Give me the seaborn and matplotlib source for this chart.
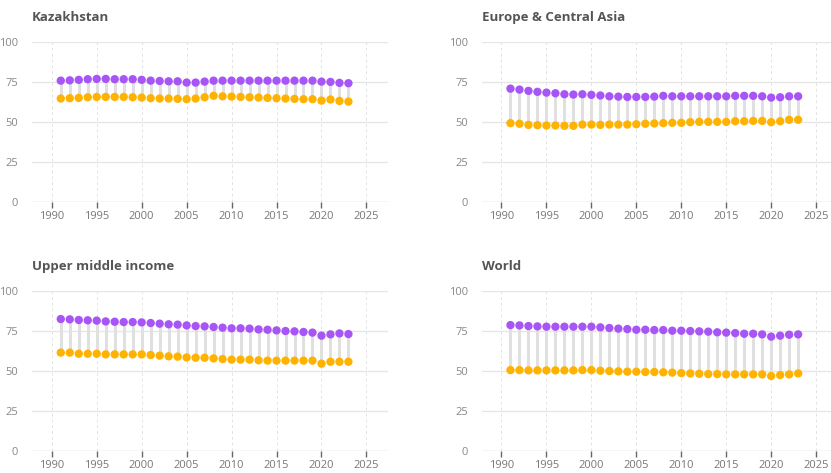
# -------------------------------
# labour_participation_dumbbell.py
# -------------------------------

import pandas as pd
import matplotlib.pyplot as plt
import seaborn as sns

# -------------------------------
# Data
# -------------------------------
YEARS = list(range(1991, 2024))

KAZ_MALE = [75.8, 76.0, 76.3, 76.7, 76.9, 76.9, 76.7, 76.7, 76.7, 76.3, 75.8,
            75.6, 75.4, 75.4, 74.6, 74.6, 75.2, 75.8, 75.8, 75.8, 75.8, 75.8,
            75.8, 75.8, 75.8, 75.8, 75.8, 75.8, 75.8, 75.2, 75.0, 74.4, 74.2]
KAZ_FEMALE = [64.6, 64.8, 65.0, 65.4, 65.6, 65.6, 65.6, 65.6, 65.4, 65.2, 64.8,
              64.6, 64.6, 64.4, 64.2, 64.6, 65.4, 66.3, 66.0, 65.8, 65.6, 65.4,
              65.2, 65.0, 64.8, 64.6, 64.4, 64.2, 64.2, 63.3, 64.0, 63.1, 62.7]

ECA_MALE = [70.8, 70.2, 69.4, 68.8, 68.3, 67.9, 67.3, 67.1, 67.3, 66.9, 66.5,
            66.0, 65.8, 65.6, 65.6, 65.6, 65.8, 66.3, 66.0, 66.0, 66.0, 66.0,
            66.0, 66.0, 66.0, 66.3, 66.3, 66.3, 66.0, 65.2, 65.4, 66.0, 66.0]
ECA_FEMALE = [49.2, 48.8, 48.1, 47.9, 47.7, 47.7, 47.5, 47.5, 48.3, 48.3, 48.1,
              48.3, 48.3, 48.3, 48.5, 48.8, 49.0, 49.2, 49.4, 49.4, 49.8, 50.0,
              50.0, 50.0, 50.0, 50.4, 50.4, 50.6, 50.6, 49.8, 50.4, 51.3, 51.3]

UMI_MALE = [82.3, 82.1, 81.7, 81.5, 81.3, 80.8, 80.6, 80.4, 80.4, 80.2, 79.8,
            79.4, 79.0, 78.8, 78.3, 77.9, 77.7, 77.3, 76.9, 76.5, 76.5, 76.3,
            75.8, 75.6, 75.2, 74.8, 74.6, 74.2, 73.8, 71.9, 72.7, 73.3, 72.9]
UMI_FEMALE = [61.3, 61.3, 60.6, 60.6, 60.6, 60.2, 60.2, 60.2, 60.2, 60.2, 59.8,
              59.4, 59.0, 58.8, 58.3, 58.1, 58.1, 57.7, 57.3, 56.9, 56.9, 56.9,
              56.5, 56.3, 56.3, 56.3, 56.3, 56.3, 56.3, 54.4, 55.6, 55.6, 55.6]

WLD_MALE = [78.5, 78.3, 77.9, 77.7, 77.5, 77.5, 77.5, 77.5, 77.5, 77.5, 77.1,
            76.7, 76.3, 76.0, 75.6, 75.6, 75.4, 75.4, 75.0, 75.0, 74.8, 74.6,
            74.4, 74.0, 73.8, 73.5, 73.1, 73.1, 72.7, 71.3, 71.9, 72.5, 72.7]
WLD_FEMALE = [50.4, 50.4, 50.2, 50.2, 50.2, 50.2, 50.2, 50.2, 50.4, 50.4, 50.0,
              49.8, 49.6, 49.4, 49.4, 49.2, 49.2, 49.0, 48.8, 48.5, 48.3, 48.1,
              47.9, 47.9, 47.7, 47.7, 47.7, 47.7, 47.7, 46.7, 47.3, 47.7, 48.3]

PANELS = [
    ("Kazakhstan", KAZ_MALE, KAZ_FEMALE),
    ("Europe & Central Asia", ECA_MALE, ECA_FEMALE),
    ("Upper middle income", UMI_MALE, UMI_FEMALE),
    ("World", WLD_MALE, WLD_FEMALE),
]

X_TICKS = [1990, 1995, 2000, 2005, 2010, 2015, 2020, 2025]
Y_TICKS = [0, 25, 50, 75, 100]

MALE_COLOR = "#a855f7"
FEMALE_COLOR = "#ffb300"

# -------------------------------
# Style
# -------------------------------
sns.set_theme(style="white")
plt.rcParams["font.family"] = ["Open Sans", "DejaVu Sans"]

# axes boxes in figure fractions (left, bottom, width, height)
W, H = 831, 473
BOXES = [
    (32 / W, 1 - 201.7 / H, 356 / W, 159.7 / H),
    (481.7 / W, 1 - 201.7 / H, 356 / W, 159.7 / H),
    (32 / W, 1 - 450.7 / H, 356 / W, 160 / H),
    (481.7 / W, 1 - 450.7 / H, 356 / W, 160 / H),
]


def draw_panel(ax, title, male, female):
    df = pd.DataFrame({"year": YEARS, "male": male, "female": female})
    ax.vlines(df["year"], df["female"], df["male"], color="#e0e0e0",
              linewidth=2.2, zorder=1)
    sns.scatterplot(data=df, x="year", y="male", ax=ax, color=MALE_COLOR,
                    s=36, edgecolor="none", zorder=3)
    sns.scatterplot(data=df, x="year", y="female", ax=ax, color=FEMALE_COLOR,
                    s=36, edgecolor="none", zorder=3)

    ax.set_xlim(1987.8, 2027.4)
    ax.set_ylim(0, 100)
    ax.set_xticks(X_TICKS)
    ax.set_yticks(Y_TICKS)
    ax.set_xlabel("")
    ax.set_ylabel("")
    for s in ax.spines.values():
        s.set_visible(False)

    ax.axhline(0, color="#e3e3e3", linewidth=1, zorder=0)
    ax.grid(axis="y", color="#e6e6e6", linewidth=1)
    ax.grid(axis="x", color="#e3e3e3", linewidth=0.7, linestyle=(0, (3, 3)))
    ax.set_axisbelow(True)

    ax.tick_params(axis="x", bottom=True, length=4, width=1, color="#666666",
                   labelsize=8, labelcolor="#777777", pad=3)
    ax.tick_params(axis="y", left=False, labelsize=8, labelcolor="#888888",
                   pad=4)
    ax.set_title(title, loc="left", fontsize=9.5, fontweight="bold",
                 color="#555555", pad=15)


def main():
    fig = plt.figure(figsize=(W / 100, H / 100), dpi=100)
    for box, (title, male, female) in zip(BOXES, PANELS):
        ax = fig.add_axes(box)
        draw_panel(ax, title, male, female)
    fig.savefig("out.png", dpi=100)


if __name__ == "__main__":
    main()
